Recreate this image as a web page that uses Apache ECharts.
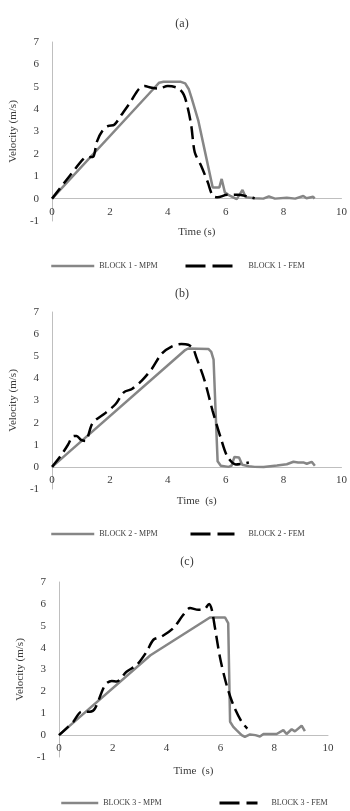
<!DOCTYPE html>
<html><head><meta charset="utf-8">
<script src="https://cdn.jsdelivr.net/npm/echarts@6/dist/echarts.min.js"></script>
<style>html,body{margin:0;padding:0;background:#fff}#c{width:350px;height:811px}</style>
</head><body><div id="c"></div>
<script>
// Panel titles and series names
const panelTitles = ['(a)', '(b)', '(c)'];
const xAxisNames = ['Time (s)', 'Time  (s)', 'Time  (s)'];
const yAxisName = 'Velocity (m/s)';
const mpmNames = ['BLOCK 1 - MPM', 'BLOCK 2 - MPM', 'BLOCK 3 - MPM'];
const femNames = ['BLOCK 1 - FEM', 'BLOCK 2 - FEM', 'BLOCK 3 - FEM'];
const xTicks = {min: 0, max: 10, interval: 2};
const yTicks = {min: -1, max: 7, interval: 1};

// Block 1
const tA_mpm = [0, 3.5, 3.7, 3.85, 4.45, 4.6, 4.72, 4.82, 5.05, 5.3, 5.55, 5.78, 5.86, 5.97, 6.09, 6.38, 6.58, 6.69, 7.0, 7.3, 7.49, 7.7, 8.11, 8.4, 8.68, 8.79, 9.02, 9.07];
const vA_mpm = [0, 4.9, 5.18, 5.22, 5.22, 5.15, 4.9, 4.5, 3.5, 2.0, 0.5, 0.5, 0.88, 0.28, 0.17, -0.02, 0.39, 0.06, 0.02, 0.0, 0.1, 0.0, 0.04, 0.0, 0.12, 0.02, 0.08, 0];
const tA_fem = [0, 0.6, 1.1, 1.25, 1.42, 1.55, 1.75, 1.95, 2.15, 2.4, 2.7, 3.0, 3.2, 3.4, 3.67, 4.0, 4.35, 4.55, 4.68, 4.81, 4.93, 5.15, 5.38, 5.55, 5.72, 6.05, 6.4, 6.75, 7.0];
const vA_fem = [0, 1.0, 1.8, 1.85, 1.87, 2.55, 3.05, 3.25, 3.3, 3.75, 4.3, 4.9, 5.03, 4.97, 4.92, 5.03, 4.94, 4.65, 4.1, 3.26, 2.07, 1.47, 0.73, 0.13, 0.06, 0.17, 0.17, 0.1, 0.01];

// Block 2
const tB_mpm = [0, 4.6, 4.7, 5.4, 5.5, 5.58, 5.65, 5.72, 5.83, 6.1, 6.2, 6.3, 6.46, 6.57, 6.8, 7.0, 7.31, 7.77, 8.11, 8.34, 8.5, 8.68, 8.8, 8.97, 9.08];
const vB_mpm = [0, 5.28, 5.35, 5.33, 5.2, 4.85, 2.5, 0.25, 0.05, 0.0, 0.05, 0.45, 0.42, 0.1, 0.03, 0.0, -0.01, 0.06, 0.12, 0.23, 0.2, 0.2, 0.14, 0.23, 0.05];
const tB_fem = [0, 0.3, 0.55, 0.72, 0.85, 1.0, 1.15, 1.4, 1.85, 2.19, 2.48, 2.76, 3.1, 3.45, 3.79, 4.13, 4.47, 4.7, 4.87, 4.98, 5.27, 5.55, 5.83, 6.06, 6.35, 6.6, 6.8];
const vB_fem = [0, 0.5, 1.0, 1.38, 1.4, 1.22, 1.17, 1.98, 2.44, 2.83, 3.37, 3.52, 3.9, 4.44, 5.12, 5.44, 5.55, 5.52, 5.35, 4.97, 3.9, 2.52, 1.3, 0.46, 0.11, 0.15, 0.2];

// Block 3
const tC_mpm = [0, 3.4, 5.61, 6.17, 6.29, 6.36, 6.48, 6.6, 6.79, 6.91, 7.1, 7.3, 7.47, 7.6, 8.09, 8.34, 8.46, 8.65, 8.77, 9.02, 9.14];
const vC_mpm = [0, 3.65, 5.38, 5.38, 5.12, 0.61, 0.38, 0.23, 0.0, -0.08, 0.03, 0.0, -0.06, 0.05, 0.05, 0.23, 0.05, 0.27, 0.17, 0.43, 0.18];
const tC_fem = [0, 0.53, 0.84, 1.15, 1.34, 1.71, 1.96, 2.14, 2.51, 2.89, 3.26, 3.51, 3.82, 4.25, 4.62, 4.87, 5.18, 5.4, 5.58, 5.68, 5.8, 5.99, 6.23, 6.48, 6.79, 7.0];
const vC_fem = [0, 0.61, 1.07, 1.07, 1.22, 2.29, 2.48, 2.45, 2.9, 3.21, 3.82, 4.36, 4.51, 4.89, 5.5, 5.81, 5.73, 5.75, 6.0, 5.73, 4.89, 3.52, 2.29, 1.38, 0.61, 0.3];

const zip = (t, v) => t.map((x, i) => [x, v[i]]);
const mpmData = [zip(tA_mpm, vA_mpm), zip(tB_mpm, vB_mpm), zip(tC_mpm, vC_mpm)];
const femData = [zip(tA_fem, vA_fem), zip(tB_fem, vB_fem), zip(tC_fem, vC_fem)];

const FONT = '"Liberation Serif", "DejaVu Serif", serif';
const TXT = '#3a3a3a';
const AXC = '#bfbfbf';
const GRAY = '#868686';

// layout per panel
const L = [
  {grid: {left: 49, right: 8, top: 42, height: 179}, title: {x: 177, y: 13}, yGap: 26, xGap: 6, lm: -14,
   leg: {top: 262, mLeft: 50, mW: 43, fLeft: 184, fW: 49}},
  {grid: {left: 49, right: 7, top: 312, height: 177}, title: {x: 177, y: 283}, yGap: 26, xGap: 7, lm: -14,
   leg: {top: 530, mLeft: 50, mW: 43, fLeft: 189, fW: 44}},
  {grid: {left: 59, right: 22, top: 582, height: 175}, title: {x: 182, y: 551}, yGap: 24, xGap: 9, lm: -14,
   leg: {top: 799, mLeft: 60, mW: 37, fLeft: 218, fW: 38}}
];

const option = {animation: false, title: [], grid: [], xAxis: [], yAxis: [], series: [], legend: []};
L.forEach((p, i) => {
  option.title.push({text: panelTitles[i], left: p.title.x, top: p.title.y, textAlign: 'center',
    textStyle: {fontFamily: FONT, fontSize: 12, fontWeight: 'normal', color: TXT}});
  option.grid.push(p.grid);
  option.xAxis.push({type: 'value', gridIndex: i, min: xTicks.min, max: xTicks.max, interval: xTicks.interval,
    name: xAxisNames[i], nameLocation: 'middle', nameGap: p.xGap,
    nameTextStyle: {fontFamily: FONT, fontSize: 11, color: TXT},
    axisLine: {onZero: true, lineStyle: {color: AXC, width: 1}}, axisTick: {show: false},
    axisLabel: {fontFamily: FONT, fontSize: 11, color: TXT, margin: p.lm}, splitLine: {show: false}});
  option.yAxis.push({type: 'value', gridIndex: i, min: yTicks.min, max: yTicks.max, interval: yTicks.interval,
    name: yAxisName, nameLocation: 'middle', nameGap: p.yGap,
    nameTextStyle: {fontFamily: FONT, fontSize: 11, color: TXT},
    axisLine: {show: true, onZero: false, lineStyle: {color: AXC, width: 1}}, axisTick: {show: false},
    axisLabel: {fontFamily: FONT, fontSize: 11, color: TXT, margin: 13}, splitLine: {show: false}});
  option.series.push({name: mpmNames[i], type: 'line', xAxisIndex: i, yAxisIndex: i, data: mpmData[i],
    symbol: 'none', smooth: false, lineStyle: {color: GRAY, width: 2.5}, itemStyle: {color: GRAY}, z: 2});
  option.series.push({name: femNames[i], type: 'line', xAxisIndex: i, yAxisIndex: i, data: femData[i],
    symbol: 'none', smooth: 0.3, lineStyle: {color: '#000', width: 2.5, type: [13, 6]}, itemStyle: {color: '#000'}, z: 3});
  option.legend.push({data: [mpmNames[i]], left: p.leg.mLeft, top: p.leg.top, padding: 0,
    itemWidth: p.leg.mW, itemHeight: 10, selectedMode: false,
    itemStyle: {opacity: 0},
    lineStyle: {width: 2.5, color: GRAY},
    textStyle: {fontFamily: FONT, fontSize: 8, color: TXT, padding: [0, 0, 0, 0]}});
  option.legend.push({data: [femNames[i]], left: p.leg.fLeft, top: p.leg.top, padding: 0,
    itemWidth: p.leg.fW, itemHeight: 10, selectedMode: false,
    itemStyle: {opacity: 0},
    lineStyle: {width: 3, color: '#000', type: [20, 7]},
    textStyle: {fontFamily: FONT, fontSize: 8, color: TXT, padding: [0, 0, 0, 9]}});
});

const chart = echarts.init(document.getElementById('c'), null, {renderer: 'canvas'});
chart.setOption(option);
</script>
</body></html>
